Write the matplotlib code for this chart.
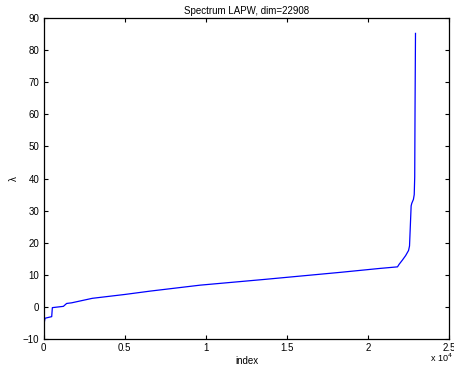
import matplotlib
matplotlib.use("Agg")
import matplotlib.pyplot as plt
from matplotlib.ticker import FuncFormatter

plt.rcParams['font.family'] = ['Liberation Sans', 'DejaVu Sans']

# eigenvalue spectrum (index, lambda)
index = [0, 90, 500, 540, 1220, 1420, 1730, 3000, 5000, 6570, 9640, 13630,
         18300, 20690, 21800, 21900, 22100, 22300, 22480, 22540, 22580,
         22640, 22680, 22780, 22830, 22860, 22880, 22908]
lam = [-6.0, -3.5, -3.0, -0.2, 0.2, 1.1, 1.3, 2.7, 3.9, 4.95, 6.8, 8.6,
       10.8, 12.0, 12.5, 13.3, 14.6, 16.0, 17.6, 19.0, 24.0,
       31.5, 32.3, 33.5, 35.0, 40.5, 62.0, 85.2]

xticks = [0, 5000, 10000, 15000, 20000, 25000]
yticks = list(range(-10, 100, 10))

fig = plt.figure(figsize=(4.54, 3.67), dpi=100)
ax = fig.add_axes([0.096, 0.076, 0.894, 0.875])
ax.plot(index, lam, color='#0000ff', lw=0.9)

ax.set_xlim(0, 25000)
ax.set_ylim(-10, 90)
ax.set_xticks(xticks)
ax.set_yticks(yticks)
ax.xaxis.set_major_formatter(FuncFormatter(lambda v, p: '%g' % (v / 1e4)))
ax.tick_params(direction='in', top=True, right=True, length=3, width=0.8,
               labelsize=7, pad=3)
for s in ax.spines.values():
    s.set_linewidth(0.9)

ax.set_title('Spectrum LAPW, dim=22908', fontsize=7, pad=3)
ax.set_xlabel('index', fontsize=7, labelpad=2)
ax.set_ylabel('λ', fontsize=7, labelpad=3)
fig.text(0.948, 0.013, 'x 10$^4$', fontsize=6.5)

fig.savefig('out.png', dpi=100)
